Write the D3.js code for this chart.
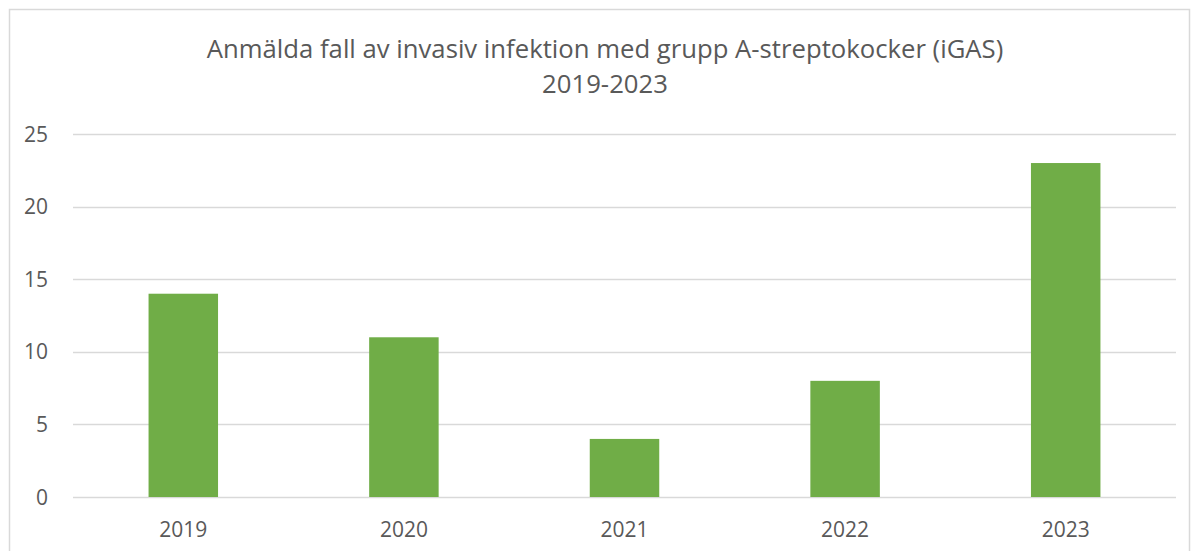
<!DOCTYPE html>
<html><head><meta charset="utf-8">
<script src="https://cdn.jsdelivr.net/npm/d3@7"></script>
<style>body{margin:0;background:#fff;} svg{display:block;}</style>
</head><body>
<script>
const categories = ["2019", "2020", "2021", "2022", "2023"];
const values = [14, 11, 4, 8, 23];
const yTicks = [0, 5, 10, 15, 20, 25];
const titleLines = ["Anmälda fall av invasiv infektion med grupp A-streptokocker (iGAS)", "2019-2023"];

(function () {
const W = 1192, H = 551;
const svg = d3.select("body").append("svg").attr("width", W).attr("height", H);
svg.append("rect").attr("x", 9.5).attr("y", 9.5).attr("width", 1180).attr("height", 600)
  .attr("fill", "#fff").attr("stroke", "#d9d9d9").attr("stroke-width", 1.5);

const mLeft = 73, mRight = 1176, mTop = 134, mBottom = 497;
const x = d3.scaleBand().domain(categories).range([mLeft, mRight]).padding(0);
const y = d3.scaleLinear().domain([0, 25]).range([mBottom, mTop]);
const font = "'Open Sans', Lato, sans-serif";

svg.append("g").selectAll("line").data(yTicks).join("line")
  .attr("x1", mLeft).attr("x2", mRight)
  .attr("y1", d => Math.round(y(d)) + 0.5).attr("y2", d => Math.round(y(d)) + 0.5)
  .attr("stroke", "#d9d9d9").attr("stroke-width", 1.5);

const bw = x.step() * 0.315;
svg.append("g").selectAll("rect").data(values).join("rect")
  .attr("x", (d, i) => x(categories[i]) + x.bandwidth() / 2 - bw / 2)
  .attr("width", bw)
  .attr("y", d => y(d)).attr("height", d => y(0) - y(d))
  .attr("fill", "#70ad47");

svg.append("g").selectAll("text").data(yTicks).join("text")
  .attr("x", 48).attr("y", d => y(d)).attr("dy", "0.36em")
  .attr("text-anchor", "end").attr("font-family", font).attr("font-size", 21)
  .attr("fill", "#595959").text(d => d);

svg.append("g").selectAll("text").data(categories).join("text")
  .attr("x", d => x(d) + x.bandwidth() / 2).attr("y", 537)
  .attr("text-anchor", "middle").attr("font-family", font).attr("font-size", 21)
  .attr("fill", "#595959").text(d => d);

svg.append("g").selectAll("text").data(titleLines).join("text")
  .attr("x", 605).attr("y", (d, i) => 58 + i * 35)
  .attr("text-anchor", "middle").attr("font-family", font).attr("font-size", 25.7)
  .attr("fill", "#595959")
  .text(d => d);
})();
</script>
</body></html>
